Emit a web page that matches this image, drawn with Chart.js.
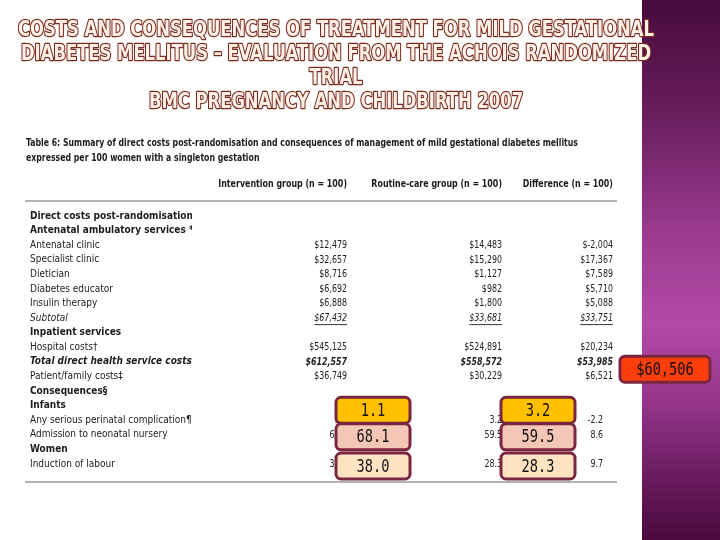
<!DOCTYPE html>
<html>
<head>
<meta charset="utf-8">
<script src="https://cdn.jsdelivr.net/npm/chart.js@4.4.1/dist/chart.umd.min.js"></script>
<style>
  html, body { margin: 0; padding: 0; background: #ffffff; }
  #slide { position: relative; width: 720px; height: 540px; overflow: hidden; background: #ffffff; }
  #panel {
    position: absolute; left: 642px; top: 0; width: 78px; height: 540px;
    background: linear-gradient(to bottom, #470a3c 0%, #6a1f5f 22%, #9e3c93 45%, #b24aa6 60%, #93348a 75%, #6a1c5f 88%, #4a0a3e 100%);
  }
  #table { position: absolute; left: 0; top: 0; }
</style>
</head>
<body>
<div id="slide">
  <div id="panel"></div>
  <canvas id="table" width="720" height="540"></canvas>
</div>
<script>
// Slide text
const titleLines = [
    'COSTS AND CONSEQUENCES OF TREATMENT FOR MILD GESTATIONAL',
    'DIABETES MELLITUS \u2013 EVALUATION FROM THE ACHOIS RANDOMIZED',
    'TRIAL',
    'BMC PREGNANCY AND CHILDBIRTH 2007'
];
const captionLines = [
    'Table 6: Summary of direct costs post-randomisation and consequences of management of mild gestational diabetes mellitus',
    'expressed per 100 women with a singleton gestation'
];

// Table data
const columnHeaders = ['Intervention group (n = 100)', 'Routine-care group (n = 100)', 'Difference (n = 100)'];
const rowLabels = [
    'Direct costs post-randomisation-',
    'Antenatal ambulatory services *',
    'Antenatal clinic',
    'Specialist clinic',
    'Dietician',
    'Diabetes educator',
    'Insulin therapy',
    'Subtotal',
    'Inpatient services',
    'Hospital costs\u2020',
    'Total direct health service costs',
    'Patient/family costs\u2021',
    'Consequences\u00a7',
    'Infants',
    'Any serious perinatal complication\u00b6',
    'Admission to neonatal nursery',
    'Women',
    'Induction of labour'
];
const interventionValues = [null, null, 12479, 32657, 8716, 6692, 6888, 67432, null, 545125, 612557, 36749, null, null, 1.1, 68.1, null, 38.0];
const routineValues = [null, null, 14483, 15290, 1127, 982, 1800, 33681, null, 524891, 558572, 30229, null, null, 3.2, 59.5, null, 28.3];
const differenceValues = [null, null, -2004, 17367, 7589, 5710, 5088, 33751, null, 20234, 53985, 6521, null, null, -2.2, 8.6, null, 9.7];
// row kind: head = section heading, cost = dollars, sub = underlined subtotal, total = bold italic, rate = per 100
const rowKinds = ['head', 'head', 'cost', 'cost', 'cost', 'cost', 'cost', 'sub', 'head', 'cost', 'total', 'cost', 'head', 'head', 'rate', 'rate', 'head', 'rate'];

// Highlighted callouts
const highlightRows = [14, 15, 17];
const highlightColumns = [0, 1];
const totalCostGap = 60506;

// Layout / styles
const colPos = [1, 2, 2.716];
const rateShift = [0, 0, -10];
const boxFills = ['#ffc000', '#f4c6b6', '#fde3c2'];
const boxShift = [-10, 2, 2];
const boxLeft = [-11, -1];
const textFamily = '"DejaVu Sans Condensed", "DejaVu Sans", sans-serif';
const squeeze = 0.8;

function formatValue(v, kind) {
    if (kind === 'rate') return v.toFixed(1);
    return '$' + v.toLocaleString('en-US');
}

function labelFont(kind, size) {
    size = size || 10;
    if (kind === 'head') return { family: textFamily, size: size, weight: 'bold' };
    if (kind === 'sub') return { family: textFamily, size: size, style: 'italic' };
    if (kind === 'total') return { family: textFamily, size: size, weight: 'bold', style: 'italic' };
    return { family: textFamily, size: size, weight: 'normal' };
}

function fontString(f) {
    return [f.style || 'normal', f.weight || 'normal', f.size + 'px', f.family].join(' ');
}

// draw horizontally squeezed text, right aligned at x; returns drawn width
function squeezedText(ctx, text, x, y) {
    const w = ctx.measureText(text).width * squeeze;
    ctx.save();
    ctx.translate(x, y);
    ctx.scale(squeeze, 1);
    ctx.textAlign = 'right';
    ctx.textBaseline = 'middle';
    ctx.fillText(text, 0, 0);
    ctx.restore();
    return w;
}

function roundBox(ctx, x, y, w, h, fill) {
    ctx.beginPath();
    ctx.roundRect(x, y, w, h, 5);
    ctx.fillStyle = fill;
    ctx.fill();
    ctx.lineWidth = 3;
    ctx.strokeStyle = '#7a2640';
    ctx.stroke();
}

function boxText(ctx, text, cx, cy) {
    ctx.save();
    ctx.translate(cx, cy + 1);
    ctx.scale(0.76, 1);
    ctx.font = '18px "DejaVu Sans Mono", monospace';
    ctx.textAlign = 'center';
    ctx.textBaseline = 'middle';
    ctx.fillStyle = '#151010';
    ctx.fillText(text, 0, 0);
    ctx.restore();
}

const tablePlugin = {
    id: 'tableText',
    beforeDraw(chart) {
        const ctx = chart.ctx;
        // title
        ctx.save();
        ctx.font = 'bold 21px "DejaVu Sans Condensed", "DejaVu Sans", sans-serif';
        const k = 636 / ctx.measureText(titleLines[0]).width;
        const titleY = [31, 55, 79, 103];
        titleLines.forEach((t, i) => {
            ctx.save();
            ctx.translate(336, titleY[i]);
            ctx.scale(k, 1);
            ctx.textAlign = 'center';
            ctx.textBaseline = 'middle';
            ctx.lineJoin = 'round';
            ctx.lineWidth = 2.4;
            ctx.strokeStyle = '#7b2a1c';
            ctx.strokeText(t, 0, 0);
            ctx.fillStyle = '#fff1e8';
            ctx.fillText(t, 0, 0);
            ctx.restore();
        });
        ctx.restore();

        // caption
        ctx.save();
        ctx.font = 'bold 11px ' + textFamily;
        const kc = 552 / ctx.measureText(captionLines[0]).width;
        ctx.fillStyle = '#1c1c1c';
        ctx.textBaseline = 'middle';
        captionLines.forEach((t, i) => {
            ctx.save();
            ctx.translate(26, 143 + i * 15);
            ctx.scale(kc, 1);
            ctx.fillText(t, 0, 0);
            ctx.restore();
        });
        ctx.restore();
    },
    afterDatasetsDraw(chart) {
        const ctx = chart.ctx;
        const xs = chart.scales.x;
        const ys = chart.scales.y;
        const top = ys.getPixelForValue(0);
        const bottom = ys.getPixelForValue(rowLabels.length - 1);

        ctx.save();
        // header row
        ctx.font = 'bold 11px ' + textFamily;
        ctx.fillStyle = '#1c1c1c';
        columnHeaders.forEach((h, c) => squeezedText(ctx, h, xs.getPixelForValue(colPos[c]), top - 32));

        // rules
        ctx.strokeStyle = '#9a9a9a';
        ctx.lineWidth = 1.5;
        [top - 15, bottom + 18].forEach(y => {
            ctx.beginPath();
            ctx.moveTo(25, y);
            ctx.lineTo(617, y);
            ctx.stroke();
        });

        // values
        chart.data.datasets.forEach((ds, c) => {
            const meta = chart.getDatasetMeta(c);
            meta.data.forEach((pt, j) => {
                const row = rowLabels.indexOf(ds.data[j].y);
                const kind = rowKinds[row];
                ctx.font = fontString(labelFont(kind, 11));
                ctx.fillStyle = '#222';
                const x = pt.x + (kind === 'rate' ? rateShift[c] : 0);
                const w = squeezedText(ctx, formatValue(ds.data[j].v, kind), x, pt.y);
                if (kind === 'sub') {
                    ctx.lineWidth = 1;
                    ctx.strokeStyle = '#333';
                    ctx.beginPath();
                    ctx.moveTo(x - w, pt.y + 6.5);
                    ctx.lineTo(x, pt.y + 6.5);
                    ctx.stroke();
                }
            });
        });

        // callout boxes over the consequence rates
        const cols = [interventionValues, routineValues];
        highlightColumns.forEach(c => {
            const x = xs.getPixelForValue(colPos[c]) + boxLeft[c];
            highlightRows.forEach((r, i) => {
                const cy = ys.getPixelForValue(r) + boxShift[i];
                roundBox(ctx, x, cy - 13, 74, 26, boxFills[i]);
                boxText(ctx, formatValue(cols[c][r], 'rate'), x + 37, cy);
            });
        });

        // total cost difference callout
        const gx = xs.getPixelForValue(colPos[2]) + 7;
        const gy = (ys.getPixelForValue(10) + ys.getPixelForValue(11)) / 2;
        roundBox(ctx, gx, gy - 13, 90, 26, '#fb3e0c');
        boxText(ctx, formatValue(totalCostGap, 'cost'), gx + 45, gy);
        ctx.restore();
    }
};

const chart = new Chart(document.getElementById('table'), {
    type: 'scatter',
    data: {
        datasets: [interventionValues, routineValues, differenceValues].map((vals, c) => ({
            label: columnHeaders[c],
            data: vals.map((v, i) => v === null ? null : { x: colPos[c], y: rowLabels[i], v: v }).filter(p => p),
            pointRadius: 0
        }))
    },
    options: {
        responsive: false,
        animation: false,
        events: [],
        layout: { padding: { left: 30, top: 216, bottom: 76, right: 63 } },
        plugins: {
            legend: { display: false },
            tooltip: { enabled: false }
        },
        scales: {
            x: { type: 'linear', display: false, min: 0, max: 3 },
            y: {
                type: 'category',
                labels: rowLabels,
                offset: false,
                clip: false,
                grid: { display: false, drawTicks: false },
                border: { display: false },
                ticks: {
                    autoSkip: false,
                    crossAlign: 'far',
                    padding: 0,
                    color: '#1c1c1c',
                    font: c => labelFont(rowKinds[c.index])
                },
                afterFit: s => { s.width = 162; }
            }
        }
    },
    plugins: [tablePlugin]
});
</script>
</body>
</html>
